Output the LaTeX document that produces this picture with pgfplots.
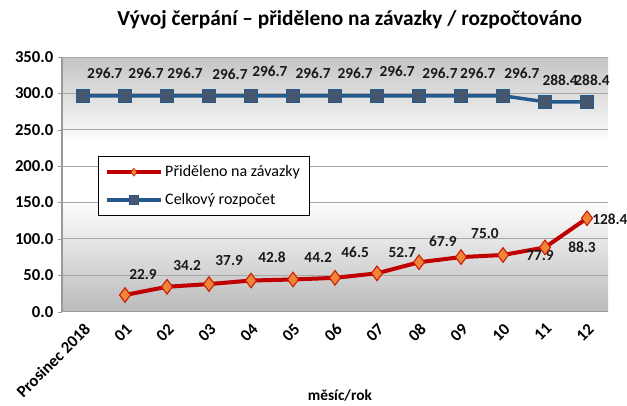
\documentclass[border=0pt]{standalone}
\usepackage{fontspec}
\setmainfont{Carlito}
\usepackage{pgfplots}
\pgfplotsset{compat=1.18}

\definecolor{redline}{HTML}{C00000}
\definecolor{redfill}{HTML}{F0853A}
\definecolor{blueline}{HTML}{245A8C}
\definecolor{bluefill}{HTML}{46566E}
\definecolor{gridgray}{HTML}{A6A6A6}

% plot area background: grey at top and bottom, white band in the middle
\pgfdeclareverticalshading{plotbg}{100bp}{color(0bp)=(black!27); color(25bp)=(black!27); color(47bp)=(white); color(58bp)=(white); color(75bp)=(black!23); color(100bp)=(black!23)}

\begin{document}
\begin{tikzpicture}
\useasboundingbox (-46.5pt,-70.5pt) rectangle (423.75pt,233.75pt);
\begin{axis}[
    scale only axis,
    width=409.5pt, height=191pt,
    xmin=-0.5, xmax=12.5,
    ymin=0, ymax=350,
    xtick={0,...,12},
    xticklabels={Prosinec 2018,01,02,03,04,05,06,07,08,09,10,11,12},
    ytick={0,50,...,350},
    x tick label style={rotate=45, anchor=north east, font=\fontsize{12.5}{14}\bfseries},
    y tick label style={font=\fontsize{12.5}{14}\bfseries},
    yticklabel style={/pgf/number format/.cd, fixed, fixed zerofill, precision=1, 1000 sep={}, assume math mode=true},
    axis x line=bottom, axis y line=left,
    axis line style={draw=gray!80, line width=0.8pt, -},
    x axis line style={line width=1.2pt},
    ymajorgrids, grid style={gridgray, line width=0.7pt},
    xtick style={draw=none},
    ytick style={draw=gray!80},
    tick align=outside, major tick length=3pt,
    axis background/.style={shading=plotbg},
    clip=false,
    legend style={at={(0.066,0.612)}, anchor=north west, draw=black, line width=0.8pt, fill=white,
        font=\fontsize{12}{14}\selectfont, inner xsep=5pt, inner ysep=5pt, row sep=7pt},
    legend cell align=left,
    legend image code/.code={\draw[#1, mark repeat=2, mark phase=2] plot coordinates {(0pt,0pt) (20pt,0pt) (40pt,0pt)};},
]
\addplot[redline, line width=3pt, mark=diamond*, mark size=5.5pt,
    mark options={fill=redfill, draw=redline!80!orange, line width=0.8pt},
    legend image post style={mark size=3pt, mark options={fill=redfill, draw=redline!80!orange, line width=0.4pt}}]
    coordinates {(1,22.9)(2,34.2)(3,37.9)(4,42.8)(5,44.2)(6,46.5)(7,52.7)(8,67.9)(9,75.0)(10,77.9)(11,88.3)(12,128.4)};
\addlegendentry{Přiděleno na závazky}
\addplot[blueline, line width=2.6pt, mark=square*, mark size=5pt,
    mark options={fill=bluefill, draw=blueline, line width=0.8pt},
    legend image post style={mark size=3.6pt, mark options={fill=bluefill, draw=blueline, line width=0.5pt}}]
    coordinates {(0,296.7)(1,296.7)(2,296.7)(3,296.7)(4,296.7)(5,296.7)(6,296.7)(7,296.7)(8,296.7)(9,296.7)(10,296.7)(11,288.4)(12,288.4)};
\addlegendentry{Celkový rozpočet}

% data labels
\begin{scope}[every node/.style={font=\fontsize{11.5}{13}\bfseries, text=black!90}]
\node at (axis cs:1.43,50.7) {22.9};
\node at (axis cs:2.48,64) {34.2};
\node at (axis cs:3.48,70) {37.9};
\node at (axis cs:4.5,75) {42.8};
\node at (axis cs:5.6,74) {44.2};
\node at (axis cs:6.48,82) {46.5};
\node at (axis cs:7.6,81) {52.7};
\node at (axis cs:8.57,96) {67.9};
\node at (axis cs:9.57,108) {75.0};
\node at (axis cs:10.88,77) {77.9};
\node at (axis cs:11.88,88) {88.3};
\node[anchor=west, inner xsep=0pt] at (axis cs:12.12,127) {128.4};
\node at (axis cs:0.52,327) {296.7};
\node at (axis cs:1.5,327) {296.7};
\node at (axis cs:2.43,327) {296.7};
\node at (axis cs:3.5,326) {296.7};
\node at (axis cs:4.45,330.5) {296.7};
\node at (axis cs:5.48,327) {296.7};
\node at (axis cs:6.48,327) {296.7};
\node at (axis cs:7.48,330.5) {296.7};
\node at (axis cs:8.5,327) {296.7};
\node at (axis cs:9.4,327) {296.7};
\node at (axis cs:10.45,327) {296.7};
\node at (axis cs:11.36,318) {288.4};
\node at (axis cs:12.12,318) {288.4};
\end{scope}

\node[font=\fontsize{16}{18}\bfseries] at (rel axis cs:0.527,1) [yshift=27.75pt] {Vývoj čerpání – přiděleno na závazky / rozpočtováno};
\node[font=\fontsize{11.5}{13}\bfseries] at (rel axis cs:0.509,0) [yshift=-63pt] {měsíc/rok};
\end{axis}
\end{tikzpicture}
\end{document}
